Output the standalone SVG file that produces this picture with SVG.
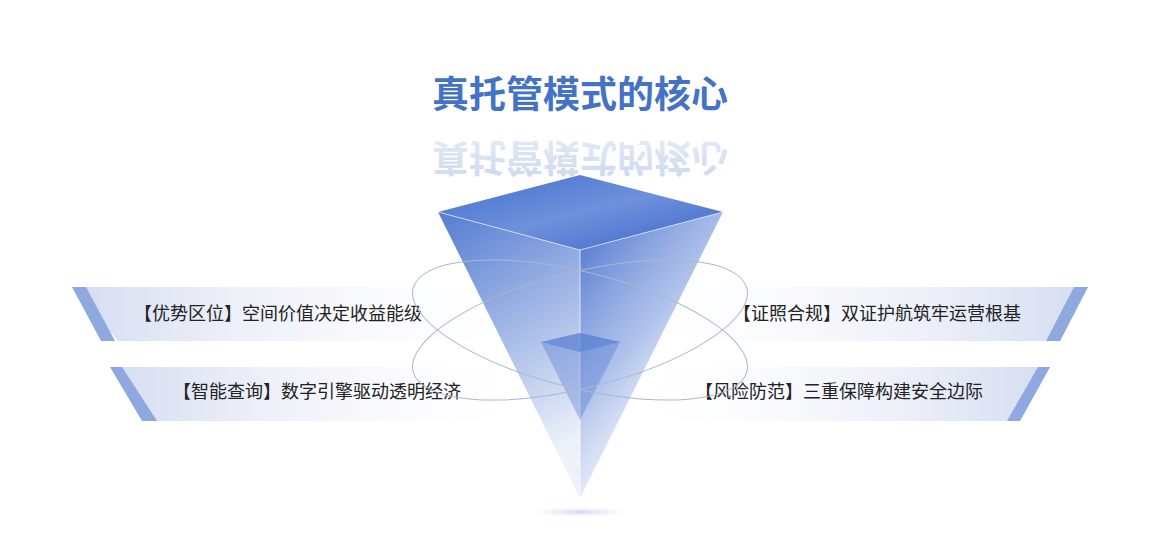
<svg xmlns="http://www.w3.org/2000/svg" width="1172" height="556" viewBox="0 0 1172 556">
<defs>
<linearGradient id="bandL" x1="0" y1="0" x2="1" y2="0"><stop offset="0" stop-color="#d4dcf1"/><stop offset="1" stop-color="#ffffff" stop-opacity="0"/></linearGradient>
<linearGradient id="bandR" x1="1" y1="0" x2="0" y2="0"><stop offset="0" stop-color="#d4dcf1"/><stop offset="1" stop-color="#ffffff" stop-opacity="0"/></linearGradient>
<linearGradient id="top" x1="0" y1="0" x2="1" y2="1"><stop offset="0" stop-color="#3f6dcc"/><stop offset="0.5" stop-color="#6f91dc"/><stop offset="1" stop-color="#3a66c8"/></linearGradient>
<linearGradient id="lf" x1="0" y1="0" x2="0.3" y2="1"><stop offset="0" stop-color="#4b75cf" stop-opacity="0.95"/><stop offset="1" stop-color="#4b75cf" stop-opacity="0.1"/></linearGradient>
<linearGradient id="rf" x1="0" y1="0" x2="0.6" y2="1"><stop offset="0" stop-color="#3a66c8" stop-opacity="0.95"/><stop offset="0.5" stop-color="#7a99dd" stop-opacity="0.6"/><stop offset="1" stop-color="#ffffff" stop-opacity="0.2"/></linearGradient>
<linearGradient id="refl" x1="0" y1="0" x2="0" y2="1"><stop offset="0" stop-color="#fff" stop-opacity="1"/><stop offset="1" stop-color="#fff" stop-opacity="0.3"/></linearGradient>
<radialGradient id="shadow"><stop offset="0" stop-color="#c9d4ee"/><stop offset="1" stop-color="#ffffff" stop-opacity="0"/></radialGradient>
<style>
.t{font-family:"Noto Sans CJK SC","Liberation Sans",sans-serif;font-size:18px;fill:#222}
.stripe{fill:#8fa8e0}
.orb{fill:none;stroke:#a9b7cf;stroke-width:1}
</style>
</defs>
<rect width="1172" height="556" fill="#fff"/>
<g id="title">
<text x="580" y="108" text-anchor="middle" font-family="Noto Sans CJK SC,sans-serif" font-weight="bold" font-size="37" fill="#4472c4">真托管模式的核心</text>
<g transform="translate(0,252) scale(1,-1)" opacity="0.3"><text x="580" y="108" text-anchor="middle" font-family="Noto Sans CJK SC,sans-serif" font-weight="bold" font-size="37" fill="#4472c4">真托管模式的核心</text></g>
<rect x="420" y="140" width="330" height="36" fill="url(#refl)" opacity="0.5"/>
</g>
<g id="band-l1"><polygon points="72,287 560,287 560,341 118,341" fill="url(#bandL)"/><polygon class="stripe" points="72,287 86,287 115,341 101,341"/><text class="t" x="134" y="320">【优势区位】空间价值决定收益能级</text></g>
<g id="band-l2"><polygon points="110,367 560,367 560,421 157,421" fill="url(#bandL)"/><polygon class="stripe" points="110,367 122,367 157,421 142,421"/><text class="t" x="173" y="398">【智能查询】数字引擎驱动透明经济</text></g>
<g id="band-r1"><polygon points="600,287 1088,287 1060,341 600,341" fill="url(#bandR)"/><polygon class="stripe" points="1074,287 1088,287 1060,341 1046,341"/><text class="t" x="733" y="320">【证照合规】双证护航筑牢运营根基</text></g>
<g id="band-r2"><polygon points="600,367 1050,367 1020,421 600,421" fill="url(#bandR)"/><polygon class="stripe" points="1038,367 1050,367 1020,421 1007,421"/><text class="t" x="695" y="398">【风险防范】三重保障构建安全边际</text></g>
<g id="cone">
<ellipse cx="580" cy="512" rx="60" ry="6" fill="url(#shadow)"/>
<polygon points="438,212 580,250 580,498" fill="url(#lf)"/>
<polygon points="580,250 723,212 580,498" fill="url(#rf)"/>
<polygon points="438,212 580,175 723,212 580,250" fill="url(#top)"/>
<line x1="580" y1="250" x2="580" y2="498" stroke="#fff" stroke-opacity="0.7"/>
<line x1="438" y1="212" x2="580" y2="250" stroke="#fff" stroke-opacity="0.6"/>
<line x1="580" y1="250" x2="723" y2="212" stroke="#fff" stroke-opacity="0.6"/>
<polygon points="541,342 580,333 620,342 580,420" fill="#4a74cf" opacity="0.35"/>
<polygon points="541,342 580,333 620,342 580,352" fill="#5a80d4" opacity="0.6"/>
</g>
<g id="connectors">
<ellipse class="orb" cx="580" cy="330" rx="172" ry="58" transform="rotate(14 580 330)"/>
<ellipse class="orb" cx="580" cy="330" rx="172" ry="58" transform="rotate(-14 580 330)"/>
</g>
</svg>
